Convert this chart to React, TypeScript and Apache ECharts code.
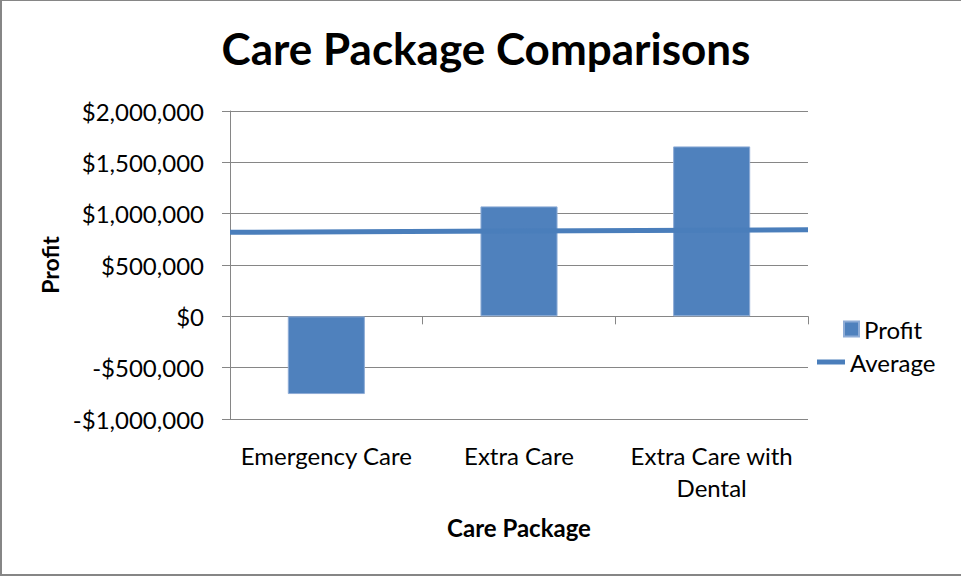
import React, { useEffect, useRef } from "react";
import * as echarts from "echarts";

const categories = ["Emergency Care", "Extra Care", "Extra Care with\nDental"];
const profit = [-757000, 1071000, 1655000];
const average = [818000, 831000, 844000];
const yTicks = { min: -1000000, max: 2000000, interval: 500000 };

const FONT = "Lato";
const GRAY = "#868686";

function fmt(v: number): string {
  const s = "$" + Math.abs(v).toLocaleString("en-US");
  return v < 0 ? "-" + s : s;
}

export default function App() {
  const ref = useRef<HTMLDivElement>(null);
  useEffect(() => {
    if (!ref.current) return;
    const chart = echarts.init(ref.current, undefined, { renderer: "svg" });
    chart.setOption({
      animation: false,
      backgroundColor: "#ffffff",
      textStyle: { fontFamily: FONT },
      title: {
        text: "Care Package Comparisons",
        left: 481,
        textAlign: "center",
        top: 21,
        textStyle: { fontFamily: FONT, fontWeight: "bold", fontSize: 44, color: "#000" },
      },
      grid: { left: 230, right: 153, top: 111, bottom: 158, containLabel: false },
      legend: [
        {
          data: [{ name: "Profit", icon: "rect" }],
          left: 838,
          top: 312,
          itemWidth: 15,
          itemHeight: 15,
          textStyle: { fontFamily: FONT, fontSize: 24, color: "#000" },
        },
        {
          data: [{ name: "Average", icon: "rect" }],
          left: 812,
          top: 345,
          itemWidth: 28,
          itemHeight: 5,
          textStyle: { fontFamily: FONT, fontSize: 24, color: "#000" },
        },
      ],
      graphic: [
        {
          type: "rect",
          shape: { x: 1, y: 0, width: 970, height: 575 },
          style: { fill: "none", stroke: GRAY, lineWidth: 2 },
          silent: true,
        },
      ],
      xAxis: [
        {
          type: "category",
          data: categories,
          position: "bottom",
          axisLine: { show: true, onZero: true, lineStyle: { color: GRAY, width: 1 } },
          axisTick: { show: true, length: 8, lineStyle: { color: GRAY } },
          axisLabel: { show: false },
          splitLine: { show: false },
        },
        {
          type: "category",
          data: categories,
          position: "bottom",
          axisLine: { show: false, onZero: false },
          axisTick: { show: false },
          axisLabel: {
            show: true,
            margin: 20,
            fontFamily: FONT,
            fontSize: 24,
            color: "#000",
            lineHeight: 32,
            interval: 0,
          },
          name: "Care Package",
          nameLocation: "middle",
          nameGap: 96,
          nameTextStyle: { fontFamily: FONT, fontWeight: "bold", fontSize: 24, color: "#000" },
        },
        {
          type: "category",
          data: categories,
          boundaryGap: false,
          show: false,
        },
      ],
      yAxis: {
        type: "value",
        min: yTicks.min,
        max: yTicks.max,
        interval: yTicks.interval,
        axisLine: { show: true, lineStyle: { color: GRAY, width: 1 } },
        axisTick: { show: true, length: 8, lineStyle: { color: GRAY } },
        splitLine: { show: true, lineStyle: { color: GRAY, width: 1 } },
        axisLabel: {
          formatter: (v: number) => fmt(v),
          margin: 26,
          fontFamily: FONT,
          fontSize: 24,
          color: "#000",
        },
        name: "Profit",
        nameLocation: "middle",
        nameGap: 166,
        nameRotate: 90,
        nameTextStyle: { fontFamily: FONT, fontWeight: "bold", fontSize: 23, color: "#000" },
      },
      series: [
        {
          name: "Profit",
          type: "bar",
          xAxisIndex: 0,
          data: profit,
          barWidth: "40%",
          itemStyle: { color: "#4F81BD", borderColor: "#8EACD6", borderWidth: 1 },
        },
        {
          name: "Average",
          type: "line",
          xAxisIndex: 2,
          data: average,
          symbol: "none",
          lineStyle: { color: "#4A7EBB", width: 5 },
          itemStyle: { color: "#4A7EBB" },
          z: 3,
        },
      ],
    });
    return () => chart.dispose();
  }, []);
  return (
    <div
      ref={ref}
      style={{ position: "absolute", left: 0, top: 0, width: 961, height: 577 }}
    />
  );
}
